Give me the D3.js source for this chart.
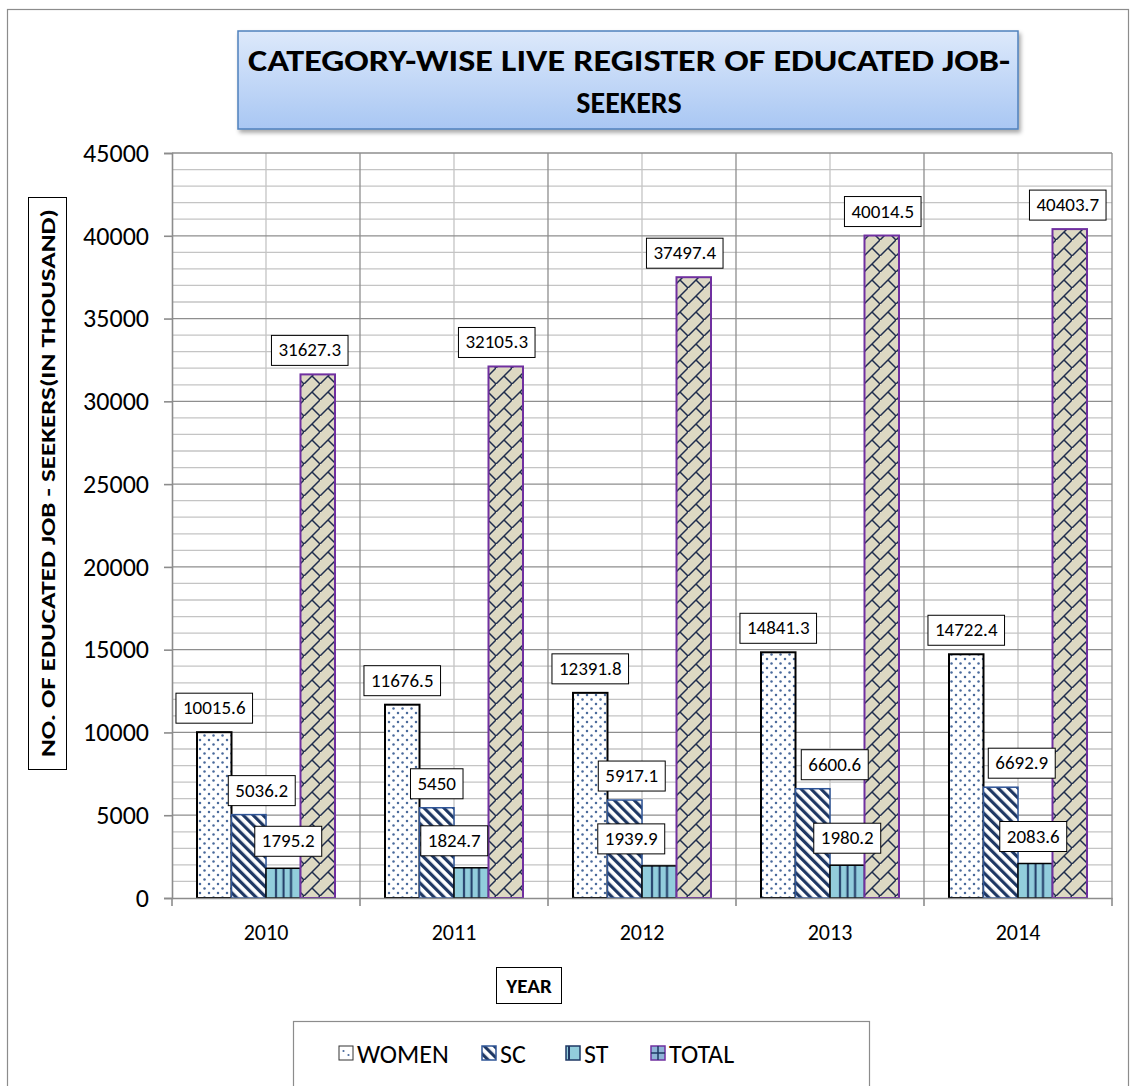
<!DOCTYPE html>
<html><head><meta charset="utf-8">
<script src="https://cdn.jsdelivr.net/npm/d3@7"></script>
<style>body{margin:0;background:#fff}svg{display:block}</style>
</head><body>
<svg id="c" width="1132" height="1086"></svg>
<script>
// ---------------- data ----------------
const years = ['2010', '2011', '2012', '2013', '2014'];
const seriesNames = ['WOMEN', 'SC', 'ST', 'TOTAL'];
const women = [10015.6, 11676.5, 12391.8, 14841.3, 14722.4];
const sc = [5036.2, 5450, 5917.1, 6600.6, 6692.9];
const st = [1795.2, 1824.7, 1939.9, 1980.2, 2083.6];
const total = [31627.3, 32105.3, 37497.4, 40014.5, 40403.7];
const yTicks = [0, 5000, 10000, 15000, 20000, 25000, 30000, 35000, 40000, 45000];
const titleLines = ['CATEGORY-WISE LIVE REGISTER OF EDUCATED JOB-', 'SEEKERS'];
const yTitle = 'NO. OF EDUCATED JOB - SEEKERS(IN THOUSAND)';
const xTitle = 'YEAR';

// label nudges (layout only, px)
const labelNudge = {
  WOMEN: [0, 0, 0, 0, 0],
  SC: [13, 0, 7, 22, 21],
  ST: [5, -17, -28, 0, -2],
  TOTAL: [-8, -9, -9, 1, -2]
};

const values = {WOMEN: women, SC: sc, ST: st, TOTAL: total};
const FONT = "Carlito, 'Liberation Sans', Arial, sans-serif";

const svg = d3.select('#c');
const defs = svg.append('defs');

// patterns
const pW = defs.append('pattern').attr('id', 'pWomen').attr('patternUnits', 'userSpaceOnUse')
  .attr('width', 9).attr('height', 9);
pW.append('rect').attr('width', 9).attr('height', 9).attr('fill', '#fff');
pW.append('circle').attr('cx', 2).attr('cy', 2).attr('r', 1.25).attr('fill', '#4a6a9c');
pW.append('circle').attr('cx', 6.5).attr('cy', 6.5).attr('r', 1.25).attr('fill', '#4a6a9c');

const pS = defs.append('pattern').attr('id', 'pSC').attr('patternUnits', 'userSpaceOnUse')
  .attr('width', 7).attr('height', 7).attr('patternTransform', 'rotate(-45)');
pS.append('rect').attr('width', 7).attr('height', 7).attr('fill', '#fff');
pS.append('rect').attr('x', 0).attr('width', 3.2).attr('height', 7).attr('fill', '#1f3864');

const pT = defs.append('pattern').attr('id', 'pST').attr('patternUnits', 'objectBoundingBox')
  .attr('x', 0).attr('y', 0).attr('width', 1).attr('height', 1);
pT.append('rect').attr('width', 200).attr('height', 2000).attr('fill', '#92cddc');
[10, 17.5, 25].forEach(px => pT.append('rect').attr('x', px - 1).attr('width', 2).attr('height', 2000).attr('fill', '#1f3864'));

const pTot = defs.append('pattern').attr('id', 'pTotal').attr('patternUnits', 'userSpaceOnUse')
  .attr('width', 16).attr('height', 16);
pTot.append('rect').attr('width', 16).attr('height', 16).attr('fill', '#ddd9c3');
pTot.append('path').attr('d', 'M-1,17 L17,-1 M8,8 L16,16').attr('stroke', '#1f2d4d')
  .attr('stroke-width', 1.5).attr('fill', 'none');

const tg = defs.append('linearGradient').attr('id', 'gTitle').attr('x1', 0).attr('y1', 0).attr('x2', 0).attr('y2', 1);
tg.append('stop').attr('offset', '0%').attr('stop-color', '#dde9fb');
tg.append('stop').attr('offset', '100%').attr('stop-color', '#a9c7f3');
const sh = defs.append('filter').attr('id', 'shadow').attr('x', '-5%').attr('y', '-20%').attr('width', '115%').attr('height', '150%');
sh.append('feDropShadow').attr('dx', 2).attr('dy', 3).attr('stdDeviation', 2).attr('flood-color', '#000').attr('flood-opacity', 0.35);

const fills = {WOMEN: 'url(#pWomen)', SC: 'url(#pSC)', ST: 'url(#pST)', TOTAL: 'url(#pTotal)'};
const strokes = {WOMEN: '#000', SC: '#2f5597', ST: '#000', TOTAL: '#7030a0'};
const strokeW = {WOMEN: 2, SC: 1.5, ST: 1.5, TOTAL: 2};

// outer border
svg.append('rect').attr('x', 7.5).attr('y', 9.5).attr('width', 1121).attr('height', 1100)
  .attr('fill', '#fff').attr('stroke', '#8c8c8c').attr('stroke-width', 1.2);

// ---------------- scales ----------------
const plot = {left: 172, right: 1112, top: 153, bottom: 898};
const x0 = d3.scaleBand().domain(years).range([plot.left, plot.right]).paddingInner(0.266).paddingOuter(0.133);
const x1 = d3.scaleBand().domain(seriesNames).range([0, x0.bandwidth()]);
const y = d3.scaleLinear().domain([0, 45000]).range([plot.bottom, plot.top]);
const step = x0.step();

// gridlines
const grid = svg.append('g');
const minorY = d3.range(0, 45001, 1000).filter(v => v % 5000 !== 0);
grid.selectAll('.hm').data(minorY).join('line')
  .attr('x1', plot.left).attr('x2', plot.right).attr('y1', d => y(d)).attr('y2', d => y(d))
  .attr('stroke', '#c4c4c4').attr('stroke-width', 1.3);
const vMinor = years.map((d, i) => plot.left + step * (i + 0.5));
const vMajor = d3.range(years.length + 1).map(i => plot.left + step * i);
grid.selectAll('.vm').data(vMinor).join('line')
  .attr('x1', d => d).attr('x2', d => d).attr('y1', plot.top).attr('y2', plot.bottom)
  .attr('stroke', '#c4c4c4').attr('stroke-width', 1.3);
grid.selectAll('.hM').data(yTicks.filter(v => v > 0)).join('line')
  .attr('x1', plot.left).attr('x2', plot.right).attr('y1', d => y(d)).attr('y2', d => y(d))
  .attr('stroke', '#8e8e8e').attr('stroke-width', 1.3);
grid.selectAll('.vM').data(vMajor.slice(1)).join('line')
  .attr('x1', d => d).attr('x2', d => d).attr('y1', plot.top).attr('y2', plot.bottom)
  .attr('stroke', '#8e8e8e').attr('stroke-width', 1.3);

// bars
const rows = [];
years.forEach((yr, i) => seriesNames.forEach(s => rows.push({yr, i, s, v: values[s][i]})));
svg.append('g').selectAll('rect').data(rows).join('rect')
  .attr('x', d => x0(d.yr) + x1(d.s))
  .attr('y', d => y(d.v))
  .attr('width', x1.bandwidth())
  .attr('height', d => y(0) - y(d.v))
  .attr('fill', d => fills[d.s])
  .attr('stroke', d => strokes[d.s])
  .attr('stroke-width', d => strokeW[d.s]);

// axes
const yAxis = svg.append('g').attr('transform', `translate(${plot.left},0)`)
  .call(d3.axisLeft(y).tickValues(yTicks).tickSize(8).tickPadding(15).tickFormat(d3.format('d')));
yAxis.select('.domain').attr('stroke', '#8c8c8c').attr('stroke-width', 1.6);
yAxis.selectAll('.tick line').attr('stroke', '#8c8c8c').attr('stroke-width', 1.6);
yAxis.selectAll('.tick text').attr('font-family', FONT).attr('font-size', 26).attr('fill', '#000');

const xAxis = svg.append('g').attr('transform', `translate(0,${plot.bottom})`)
  .call(d3.axisBottom(x0).tickSize(0).tickPadding(26));
xAxis.select('.domain').attr('stroke', '#8c8c8c').attr('stroke-width', 1.6);
xAxis.selectAll('.tick text').attr('font-family', FONT).attr('font-size', 22).attr('fill', '#000');
xAxis.selectAll('.bt').data(vMajor).join('line')
  .attr('x1', d => d).attr('x2', d => d).attr('y1', 0).attr('y2', 8)
  .attr('stroke', '#8c8c8c').attr('stroke-width', 1.6);

// data labels
const lab = svg.append('g');
rows.forEach(d => {
  const cx = x0(d.yr) + x1(d.s) + x1.bandwidth() / 2 + labelNudge[d.s][d.i];
  const gap = d.s === 'ST' ? 12 : 9;
  const bottom = y(d.v) - gap;
  const g = lab.append('g');
  const r = g.append('rect').attr('fill', '#fff').attr('stroke', '#000').attr('stroke-width', 1);
  const t = g.append('text').text(String(d.v)).attr('font-family', FONT).attr('font-size', 19)
    .attr('text-anchor', 'middle').attr('x', cx).attr('y', bottom - 9);
  const w = t.node().getComputedTextLength() + 14;
  r.attr('x', cx - w / 2).attr('y', bottom - 30).attr('width', w).attr('height', 30);
});

// title
svg.append('rect').attr('x', 238).attr('y', 31).attr('width', 780).attr('height', 98)
  .attr('fill', 'url(#gTitle)').attr('stroke', '#4f81bd').attr('stroke-width', 1.5).attr('filter', 'url(#shadow)');
svg.append('text').text(titleLines[0]).attr('x', 629).attr('y', 71).attr('text-anchor', 'middle')
  .attr('font-family', FONT).attr('font-weight', 'bold').attr('font-size', 30)
  .attr('textLength', 762).attr('lengthAdjust', 'spacingAndGlyphs');
svg.append('text').text(titleLines[1]).attr('x', 629).attr('y', 113).attr('text-anchor', 'middle')
  .attr('font-family', FONT).attr('font-weight', 'bold').attr('font-size', 30);

// y title
svg.append('rect').attr('x', 28.5).attr('y', 197.5).attr('width', 38).attr('height', 572)
  .attr('fill', '#fff').attr('stroke', '#000').attr('stroke-width', 1);
svg.append('text').text(yTitle).attr('transform', 'translate(55,483) rotate(-90)').attr('text-anchor', 'middle')
  .attr('font-family', FONT).attr('font-weight', 'bold').attr('font-size', 21)
  .attr('textLength', 548).attr('lengthAdjust', 'spacingAndGlyphs');

// x title
svg.append('rect').attr('x', 496.5).attr('y', 967.5).attr('width', 65).attr('height', 36)
  .attr('fill', '#fff').attr('stroke', '#000').attr('stroke-width', 1);
svg.append('text').text(xTitle).attr('x', 529).attr('y', 993).attr('text-anchor', 'middle')
  .attr('font-family', FONT).attr('font-weight', 'bold').attr('font-size', 21);

// legend
svg.append('rect').attr('x', 293.5).attr('y', 1021.5).attr('width', 576).attr('height', 80)
  .attr('fill', '#fff').attr('stroke', '#8c8c8c').attr('stroke-width', 1.2);
const legX = [339, 482, 566, 651];
const leg = svg.append('g');
seriesNames.forEach((s, i) => {
  const g = leg.append('g').attr('transform', `translate(${legX[i]},1046)`);
  if (s === 'WOMEN') {
    g.append('rect').attr('width', 14).attr('height', 14).attr('fill', '#fff').attr('stroke', '#333').attr('stroke-width', 1);
    g.append('circle').attr('cx', 4.5).attr('cy', 5).attr('r', 1.1).attr('fill', '#4a6a9c');
    g.append('circle').attr('cx', 9.5).attr('cy', 9).attr('r', 1.1).attr('fill', '#4a6a9c');
  } else if (s === 'SC') {
    g.append('rect').attr('width', 14).attr('height', 14).attr('fill', 'url(#pSC)').attr('stroke', '#2f5597').attr('stroke-width', 1.5);
  } else if (s === 'ST') {
    g.append('rect').attr('width', 14).attr('height', 14).attr('fill', '#92cddc').attr('stroke', '#1f3864').attr('stroke-width', 1.5);
    g.append('rect').attr('x', 2).attr('width', 2).attr('height', 14).attr('fill', '#1f3864');
  } else {
    g.append('rect').attr('width', 14).attr('height', 14).attr('fill', '#8eb4d6').attr('stroke', '#7030a0').attr('stroke-width', 1.5);
    g.append('path').attr('d', 'M7,0V14M0,7H14').attr('stroke', '#1f3864').attr('stroke-width', 1.5);
  }
  g.append('text').text(s).attr('x', 18).attr('y', 17).attr('font-family', FONT).attr('font-size', 26).attr('fill', '#000');
});
</script>
</body></html>
